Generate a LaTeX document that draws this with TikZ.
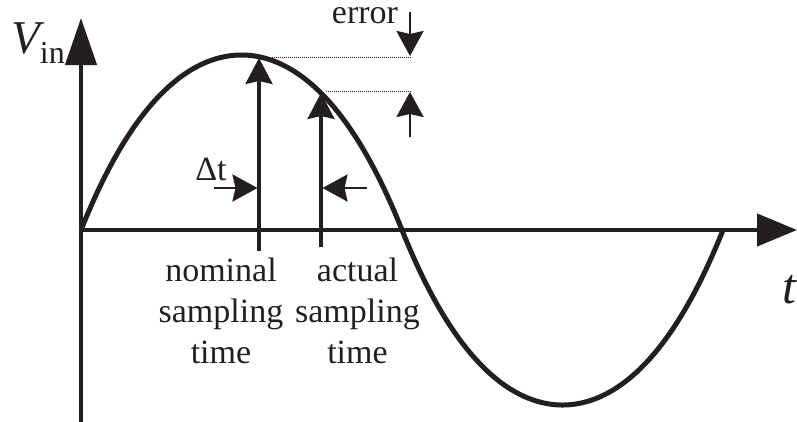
\documentclass[tikz,border=0pt]{standalone}
\usepackage{fontspec}
\setmainfont{Liberation Serif}
\usetikzlibrary{arrows.meta}
\definecolor{ink}{HTML}{231F20}
\begin{document}
\begin{tikzpicture}[x=1pt,y=-1pt,
  axisline/.style={line width=4.5pt, draw=ink},
  curveline/.style={line width=5pt, draw=ink, line join=round},
  sampleline/.style={line width=3.2pt, draw=ink, -{Stealth[length=26pt,width=27pt,inset=3pt]}},
  smallarrow/.style={line width=2.8pt, draw=ink, -{Stealth[length=25pt,width=27pt,inset=3pt]}},
  guideline/.style={line width=0.9pt, draw=ink, dash pattern=on 1pt off 1pt},
  lbl/.style={inner sep=0pt, text=ink, font=\fontsize{34}{41}\selectfont}]
\useasboundingbox (0,0) rectangle (797,421);
% axes
\coordinate (O) at (81,230);
\coordinate (ytop) at (81,18);
\coordinate (ybot) at (81,425);
\coordinate (xleft) at (79,230);
\coordinate (xend) at (797,230);
\draw[axisline, -{Triangle[length=47pt,width=31pt]}] (ybot) -- (ytop);
\draw[axisline, -{Triangle[length=40pt,width=32pt]}] (xleft) -- (xend);
% curve
\draw[curveline]
  plot[domain=81:402, samples=160] (\x, {230-175*(1-0.85*((\x-241.5)/160.5)^2-0.15*((\x-241.5)/160.5)^4)})
  -- plot[domain=402:723, samples=160] (\x, {230+175*(1-0.85*((\x-562.5)/160.5)^2-0.15*((\x-562.5)/160.5)^4)});
% sampling lines
\coordinate (n0) at (259,251);
\coordinate (n1) at (259,58);
\coordinate (a0) at (321,247);
\coordinate (a1) at (321,93);
\draw[sampleline] (n0) -- (n1);
\draw[sampleline] (a0) -- (a1);
% delta t arrows
\coordinate (d1s) at (214,188);
\coordinate (d1e) at (257.5,188);
\coordinate (d2s) at (367,188);
\coordinate (d2e) at (322.5,188);
\draw[smallarrow] (d1s) -- (d1e);
\draw[smallarrow] (d2s) -- (d2e);
% error guides and arrows
\coordinate (g1s) at (268,57.5);
\coordinate (g1e) at (412,57.5);
\coordinate (g2s) at (326,91);
\coordinate (g2e) at (412,91);
\draw[guideline] (g1s) -- (g1e);
\draw[guideline] (g2s) -- (g2e);
\coordinate (e1s) at (410,12);
\coordinate (e1e) at (410,56);
\coordinate (e2s) at (410,137);
\coordinate (e2e) at (410,92);
\draw[smallarrow] (e1s) -- (e1e);
\draw[smallarrow] (e2s) -- (e2e);
% labels
\node[lbl, anchor=base, text height=16pt] (err) at (365,23) {error};
\node[lbl, anchor=base] (dt) at (211,180) {Δt};
\node[lbl, anchor=base, align=center] (nom) at (221,363) {nominal\\sampling\\time};
\node[lbl, anchor=base, align=center] (act) at (357.5,363) {actual\\sampling\\time};
\node[inner sep=0pt, text=ink, anchor=base west] (vin) at (11,53)
  {{\fontsize{47}{47}\selectfont\itshape V}\raisebox{-10pt}{\fontsize{32}{32}\selectfont in}};
\node[inner sep=0pt, text=ink, anchor=base, font=\fontsize{50}{50}\selectfont\itshape] (tl) at (789,303) {t};
\end{tikzpicture}
\end{document}
